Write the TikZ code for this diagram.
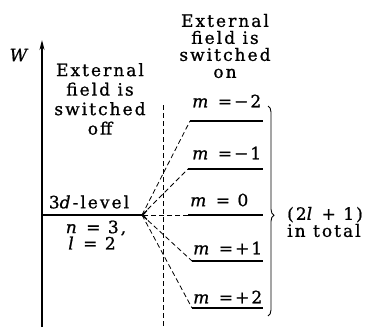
\documentclass[tikz,border=0pt]{standalone}
\usepackage{fontspec}
\setmainfont{DejaVu Serif}[LetterSpace=12, FakeBold=1]
\usetikzlibrary{arrows.meta, decorations.pathreplacing}

\begin{document}
\begin{tikzpicture}[
  x=1pt, y=-1pt,
  every node/.style={font=\fontsize{17}{17}\selectfont, inner sep=0pt},
  caption/.style={align=center},
  mlabel/.style={anchor=west},
  axis/.style={line width=1.4pt, -{Stealth[length=10pt, width=5pt]}},
  level/.style={line width=1.8pt},
  split/.style={dash pattern=on 5pt off 3pt, line width=0.8pt},
  tip/.style={split, -{Straight Barb[length=4pt, width=9pt, line width=1.3pt]}},
  brace/.style={decorate, decoration={brace, amplitude=6pt, aspect=0.52}, line width=0.9pt}
]
\useasboundingbox (0,0) rectangle (375,327);

% === ENERGY AXIS ===
\coordinate (origin) at (42,327);
\coordinate (wtop) at (42,40);
\draw[axis] (origin) -- (wtop);
\node (W) at (20,55) {\textit{W}};

% === FIELD OFF: the 3d level ===
\coordinate (lvlL) at (42,215);
\coordinate (lvlR) at (142,215);
\draw[level] (lvlL) -- (lvlR);
\node (lvlname) at (89,202) {3\textit{d}-level};
\node (nq) at (96,228) {\textit{n} = 3,};
\node (lq) at (92,243) {\textit{l} = 2};

\node[caption, font=\fontsize{17}{19.5}\selectfont] (off) at (100,99)
  {External\\field is\\switched\\off};

% divider between the two cases
\coordinate (divtop) at (163,105);
\coordinate (divbot) at (163,327);
\draw[split] (divtop) -- (divbot);

% === FIELD ON: 2l+1 sublevels ===
\node[caption] (on) at (225,46) {External\\field is\\switched\\on};

\coordinate (neg2L) at (190,121);
\coordinate (neg2R) at (263,121);
\coordinate (neg1L) at (188,169);
\coordinate (neg1R) at (263,169);
\coordinate (zeroL) at (188,215);
\coordinate (zeroR) at (263,215);
\coordinate (pos1L) at (192,261);
\coordinate (pos1R) at (263,261);
\coordinate (pos2L) at (192,308);
\coordinate (pos2R) at (263,308);

\draw[level] (neg2L) -- (neg2R);
\draw[level] (neg1L) -- (neg1R);
\draw[level] (zeroL) -- (zeroR);
\draw[level] (pos1L) -- (pos1R);
\draw[level] (pos2L) -- (pos2R);

\node[mlabel] (neg2lab) at (192,101) {\textit{m} =−2};
\node[mlabel] (neg1lab) at (192,153) {\textit{m} =−1};
\node[mlabel] (zerolab) at (190,200) {\textit{m} = 0};
\node[mlabel] (pos1lab) at (193,248) {\textit{m} =+1};
\node[mlabel] (pos2lab) at (193,297) {\textit{m} =+2};

% splitting lines back to the level
\draw[split] (lvlR) -- (neg2L);
\draw[split] (lvlR) -- (neg1L);
\draw[tip] (zeroL) -- (lvlR);
\draw[split] (lvlR) -- (pos1L);
\draw[split] (lvlR) -- (pos2L);

% === COUNT ===
\coordinate (braceT) at (268,106);
\coordinate (braceB) at (268,316);
\draw[brace] (braceT) -- (braceB);
\node[caption, align=left, anchor=west] (total) at (287,222) {(2\textit{l} + 1)\\in total};

\end{tikzpicture}
\end{document}
